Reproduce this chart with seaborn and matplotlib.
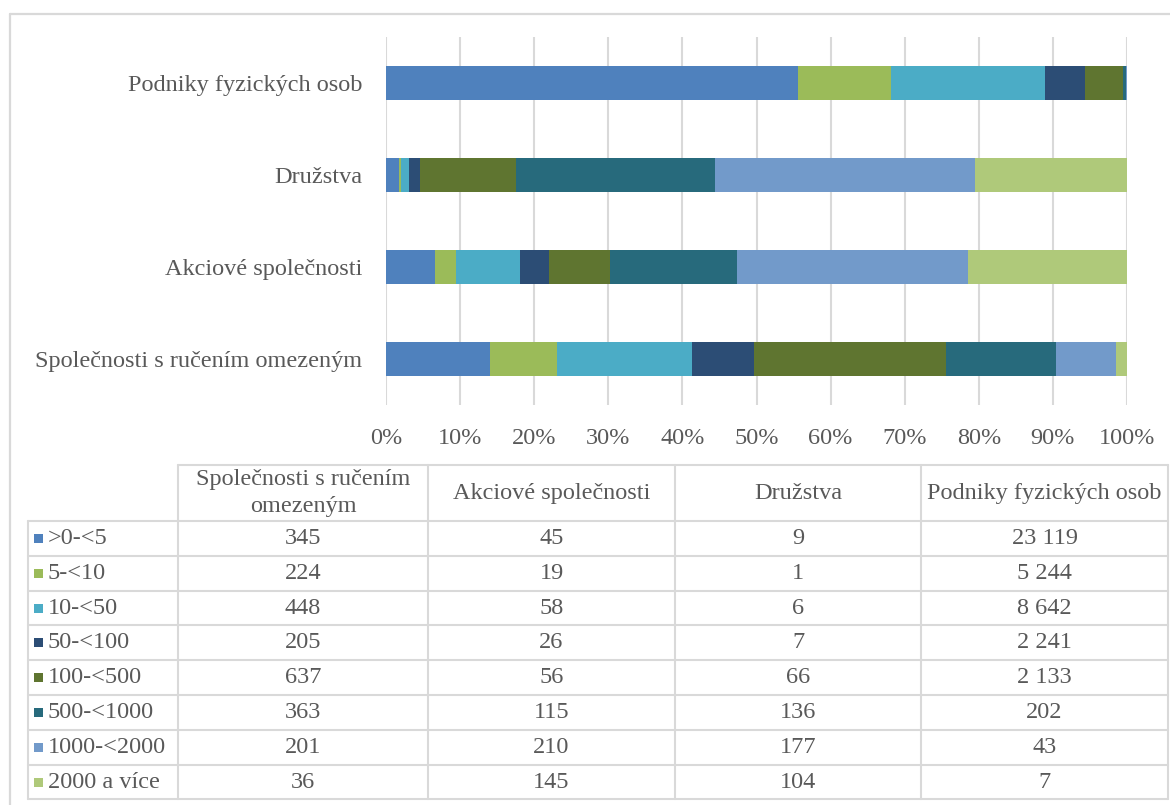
import numpy as np
import pandas as pd
import matplotlib
matplotlib.use("Agg")
import matplotlib.pyplot as plt
import seaborn as sns

# Company types (table column order) and the order of bars from top to bottom
company_types = ["Společnosti s ručením omezeným", "Akciové společnosti",
                 "Družstva", "Podniky fyzických osob"]
table_headers = [["Společnosti s ručením", "omezeným"], ["Akciové společnosti"],
                 ["Družstva"], ["Podniky fyzických osob"]]
bar_order = ["Podniky fyzických osob", "Družstva", "Akciové společnosti",
             "Společnosti s ručením omezeným"]

# Size classes (hectares) and counts per company type
size_classes = [">0-<5", "5-<10", "10-<50", "50-<100", "100-<500",
                "500-<1000", "1000-<2000", "2000 a více"]
sro_counts = [345, 224, 448, 205, 637, 363, 201, 36]
as_counts = [45, 19, 58, 26, 56, 115, 210, 145]
druzstva_counts = [9, 1, 6, 7, 66, 136, 177, 104]
fo_counts = [23119, 5244, 8642, 2241, 2133, 202, 43, 7]

colors = ["#4F81BD", "#9BBB59", "#4BACC6", "#2C4D75", "#5F7530",
          "#276A7C", "#729ACA", "#AFC97A"]

TEXT = "#595959"
GRID = "#D9D9D9"
FS = 17.5

sns.set_theme(style="white")
plt.rcParams["font.family"] = ["Liberation Serif", "DejaVu Serif"]

counts = pd.DataFrame(
    np.array([sro_counts, as_counts, druzstva_counts, fo_counts]).T,
    index=size_classes, columns=company_types)
shares = counts / counts.sum(axis=0)
cum = shares.cumsum(axis=0)

W, H = 1170, 805
fig = plt.figure(figsize=(W / 100, H / 100), dpi=100)
fig.patch.set_facecolor("white")

# Chart area in pixel coordinates
x0, x1 = 386, 1127
y_top, y_bot = 37, 405
ax = fig.add_axes([x0 / W, 1 - y_bot / H, (x1 - x0) / W, (y_bot - y_top) / H])

# 100 % stacked bars: cumulative shares drawn from the widest to the narrowest
for i in reversed(range(len(size_classes))):
    df = pd.DataFrame({"type": company_types, "share": cum.iloc[i].values})
    sns.barplot(data=df, x="share", y="type", order=bar_order, orient="h",
                color=colors[i], saturation=1, width=0.38, errorbar=None,
                linewidth=0, ax=ax)

ax.set_xlim(0, 1)
ax.set_ylim(3.5, -0.5)
ax.set_xticks(np.linspace(0, 1, 11))
ax.set_xticklabels([f"{int(round(v * 100))}%" for v in np.linspace(0, 1, 11)])
ax.set_xlabel("")
ax.set_ylabel("")
ax.grid(axis="x", color=GRID, linewidth=1.5)
ax.set_axisbelow(True)
for s in ax.spines.values():
    s.set_visible(False)
ax.tick_params(axis="x", length=0, pad=16.5, labelsize=FS, labelcolor=TEXT)
ax.tick_params(axis="y", length=0, pad=17, labelsize=FS, labelcolor=TEXT)

# Overlay in pixel coordinates for the data table and the outer frame
ov = fig.add_axes([0, 0, 1, 1], zorder=-1)
ov.set_xlim(0, W)
ov.set_ylim(H, 0)
ov.axis("off")

ov.plot([10, W + 5], [14, 14], color=GRID, lw=1.6)
ov.plot([10, 10], [14, H + 5], color=GRID, lw=1.6)

col_x = [178, 428, 675, 921, 1168]
left_x = 28
head_top = 465
row_y = [521 + 34.8 * k for k in range(len(size_classes) + 1)]

ov.plot([col_x[0], col_x[-1]], [head_top, head_top], color=GRID, lw=1.5)
for y in row_y:
    ov.plot([left_x, col_x[-1]], [y, y], color=GRID, lw=1.5)
ov.plot([left_x, left_x], [row_y[0], row_y[-1]], color=GRID, lw=1.5)
for x in col_x:
    ov.plot([x, x], [head_top, row_y[-1]], color=GRID, lw=1.5)

def fmt(v):
    return f"{v:,}".replace(",", " ")

head_mid = (head_top + row_y[0]) / 2
line_gap = 27
for j, lines in enumerate(table_headers):
    cx = (col_x[j] + col_x[j + 1]) / 2
    n = len(lines)
    for k, line in enumerate(lines):
        cy = head_mid + (k - (n - 1) / 2) * line_gap
        ov.text(cx, cy, line, ha="center", va="center", fontsize=FS,
                color=TEXT)

for i, cls in enumerate(size_classes):
    cy = (row_y[i] + row_y[i + 1]) / 2
    ov.add_patch(plt.Rectangle((34, cy - 4.5), 8.5, 9, color=colors[i], lw=0))
    ov.text(47.5, cy, cls, ha="left", va="center", fontsize=FS, color=TEXT)
    for j, t in enumerate(company_types):
        cx = (col_x[j] + col_x[j + 1]) / 2
        ov.text(cx, cy, fmt(int(counts.loc[cls, t])), ha="center",
                va="center", fontsize=FS, color=TEXT)

fig.savefig("out.png", dpi=100, facecolor="white")
